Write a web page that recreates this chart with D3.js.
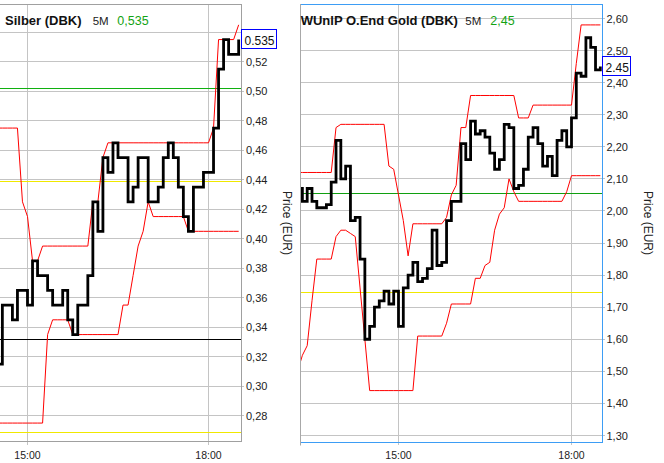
<!DOCTYPE html>
<html>
<head>
<meta charset="utf-8">
<script src="https://cdn.jsdelivr.net/npm/d3@7"></script>
<style>
  html, body { margin: 0; padding: 0; background: #fff; }
  svg { display: block; }
</style>
</head>
<body>
<svg id="chart" width="664" height="463"></svg>
<script>
// ---------------- DATA ----------------
const xTickLabels = ["15:00", "18:00"];

// Left panel: Silber (DBK), 5-minute bars starting 14:30
const silberTitle = "Silber (DBK)";
const silberPeriod = "5M";
const silberStart = "14:30";
const silberClose = [
  0.315, 0.355, 0.355, 0.345, 0.365, 0.365,
  0.355, 0.385, 0.375, 0.375, 0.365, 0.355, 0.355, 0.365, 0.345, 0.335, 0.355, 0.355,
  0.375, 0.425, 0.405, 0.455, 0.445, 0.465, 0.455, 0.455, 0.425, 0.435, 0.455, 0.455,
  0.425, 0.425, 0.435, 0.455, 0.465, 0.455, 0.435, 0.415, 0.405, 0.435, 0.435, 0.445,
  0.445, 0.475, 0.515, 0.535, 0.525, 0.525, 0.535
];
const silberUpper = [
  0.475, 0.475, 0.475, 0.475, 0.475, 0.425,
  0.415, 0.385, 0.385, 0.395, 0.395, 0.395, 0.395, 0.395, 0.395, 0.395, 0.395, 0.395,
  0.395, 0.425, 0.425, 0.455, 0.465, 0.465, 0.465, 0.465, 0.465, 0.465, 0.465, 0.465,
  0.465, 0.465, 0.465, 0.465, 0.465, 0.465, 0.465, 0.465, 0.465, 0.465, 0.465, 0.465,
  0.465, 0.475, 0.535, 0.535, 0.535, 0.535, 0.545
];
const silberLower = [
  0.275, 0.275, 0.275, 0.275, 0.275, 0.275,
  0.275, 0.275, 0.275, 0.275, 0.335, 0.345, 0.345, 0.345, 0.345, 0.335, 0.335, 0.335,
  0.335, 0.335, 0.335, 0.335, 0.335, 0.335, 0.335, 0.355, 0.355, 0.375, 0.395, 0.405,
  0.425, 0.415, 0.415, 0.415, 0.415, 0.415, 0.415, 0.415, 0.405, 0.405, 0.405, 0.405,
  0.405, 0.405, 0.405, 0.405, 0.405, 0.405, 0.405
];
const silberGrid = [0.28, 0.30, 0.32, 0.34, 0.36, 0.38, 0.40, 0.42, 0.44, 0.46, 0.48, 0.50, 0.52, 0.54];
const silberTickLabels = [0.28, 0.30, 0.32, 0.34, 0.36, 0.38, 0.40, 0.42, 0.44, 0.46, 0.48, 0.50, 0.52];
const silberLevels = [0.502, 0.439, 0.3318, 0.2687];
const silberLast = 0.535;

// Right panel: WUnlP O.End Gold (DBK), 5-minute bars starting 13:15
const goldTitle = "WUnlP O.End Gold (DBK)";
const goldPeriod = "5M";
const goldStart = "13:15";
const goldClose = [
  2.07, 2.03, 2.07, 2.03, 2.01, 2.01, 2.02, 2.09, 2.22, 2.10, 2.14, 1.97,
  1.98, 1.85, 1.60, 1.64, 1.70, 1.72, 1.75, 1.71, 1.75,
  1.64, 1.76, 1.80, 1.84, 1.78, 1.79, 1.82, 1.94, 1.83, 1.84, 1.97, 2.03,
  2.03, 2.21, 2.16, 2.28, 2.24, 2.25, 2.23, 2.18, 2.13, 2.16, 2.27, 2.26,
  2.07, 2.08, 2.13, 2.23, 2.26, 2.21, 2.14, 2.17, 2.11, 2.22, 2.25, 2.20,
  2.29, 2.43, 2.42, 2.54, 2.51, 2.44, 2.45
];
const goldUpper = [
  2.12, 2.12, 2.12, 2.12, 2.12, 2.12, 2.12, 2.12, 2.26, 2.27, 2.27, 2.27,
  2.27, 2.27, 2.27, 2.27, 2.27, 2.27, 2.27, 2.14, 2.13,
  2.05, 1.97, 1.86, 1.96, 1.96, 1.96, 1.96, 1.96, 1.96, 1.96, 1.98, 2.05,
  2.08, 2.26, 2.26, 2.36, 2.36, 2.36, 2.36, 2.36, 2.36, 2.36, 2.36, 2.36,
  2.36, 2.29, 2.29, 2.29, 2.33, 2.33, 2.33, 2.33, 2.33, 2.33, 2.33, 2.33,
  2.33, 2.46, 2.58, 2.58, 2.58, 2.58, 2.58
];
const goldLower = [
  1.50, 1.55, 1.58, 1.72, 1.85, 1.85, 1.85, 1.85, 1.92, 1.94, 1.94, 1.93,
  1.92, 1.76, 1.60, 1.44, 1.44, 1.44, 1.44, 1.44, 1.44,
  1.44, 1.44, 1.44, 1.44, 1.61, 1.61, 1.61, 1.61, 1.61, 1.61, 1.65, 1.71,
  1.71, 1.71, 1.71, 1.71, 1.79, 1.79, 1.83, 1.84, 1.94, 1.99, 2.01, 2.10,
  2.06, 2.03, 2.03, 2.03, 2.03, 2.03, 2.03, 2.03, 2.03, 2.03, 2.03, 2.06,
  2.11, 2.11, 2.11, 2.11, 2.11, 2.11, 2.11
];
const goldGrid = [1.30, 1.40, 1.50, 1.60, 1.70, 1.80, 1.90, 2.00, 2.10, 2.20, 2.30, 2.40, 2.50, 2.60];
const goldTickLabels = [1.30, 1.40, 1.50, 1.60, 1.70, 1.80, 1.90, 2.00, 2.10, 2.20, 2.30, 2.40, 2.50, 2.60];
const goldLevels = [2.054, 1.745];
const goldLast = 2.45;

const axisTitle = "Price (EUR)";

// ---------------- DRAWING ----------------
const parseT = d3.timeParse("%H:%M");
const comma = (fmt) => (v) => d3.format(fmt)(v).replace(".", ",");
const svg = d3.select("#chart");
svg.append("rect").attr("width", 664).attr("height", 463).attr("fill", "#fff");

const GRID = "#c4c4c4";
const FONT = "'Liberation Sans', Arial, sans-serif";

function series(start, values) {
  const t0 = parseT(start);
  return values.map((v, i) => ({ t: d3.timeMinute.offset(t0, 5 * i), v }));
}

function drawPanel(cfg) {
  const g = svg.append("g");
  const x = d3.scaleTime().domain([parseT("15:00"), parseT("18:00")]).range(cfg.xr);
  const y = d3.scaleLinear().domain(cfg.yd).range(cfg.yr);
  const clipId = "clip" + cfg.id;
  svg.append("clipPath").attr("id", clipId)
    .append("rect").attr("x", cfg.x0).attr("y", cfg.y0)
    .attr("width", cfg.x1 - cfg.x0).attr("height", cfg.y1 - cfg.y0);

  const crisp = (p) => Math.floor(p) + 0.5;

  // horizontal gridlines + ticks
  g.append("g").selectAll("line").data(cfg.grid).join("line")
    .attr("x1", cfg.x0).attr("x2", cfg.x1 + 3)
    .attr("y1", d => crisp(y(d))).attr("y2", d => crisp(y(d)))
    .attr("stroke", GRID).attr("stroke-width", 1);

  // vertical gridlines
  g.append("g").selectAll("line").data(xTickLabels).join("line")
    .attr("x1", d => crisp(x(parseT(d)))).attr("x2", d => crisp(x(parseT(d))))
    .attr("y1", cfg.y0).attr("y2", cfg.y1 + 3)
    .attr("stroke", GRID).attr("stroke-width", 1);

  const plot = g.append("g").attr("clip-path", `url(#${clipId})`);

  // reference levels
  plot.append("g").selectAll("line").data(cfg.levels).join("line")
    .attr("x1", cfg.x0).attr("x2", cfg.x1)
    .attr("y1", d => crisp(y(d))).attr("y2", d => crisp(y(d)))
    .attr("stroke", (d, i) => cfg.levelColors[i]).attr("stroke-width", 1);

  const lin = d3.line().x(d => x(d.t)).y(d => y(d.v));
  const step = d3.line().curve(d3.curveStepAfter).x(d => x(d.t)).y(d => y(d.v));

  plot.append("path").datum(series(cfg.start, cfg.upper)).attr("d", lin)
    .attr("fill", "none").attr("stroke", "#ff0000").attr("stroke-width", 1);
  plot.append("path").datum(series(cfg.start, cfg.lower)).attr("d", lin)
    .attr("fill", "none").attr("stroke", "#ff0000").attr("stroke-width", 1);
  plot.append("path").datum(series(cfg.start, cfg.close)).attr("d", step)
    .attr("fill", "none").attr("stroke", "#000").attr("stroke-width", 2.8)
    .attr("stroke-linejoin", "miter");

  // borders
  const b = cfg.border;
  g.append("line").attr("x1", cfg.x0).attr("x2", cfg.x1 + 0.5).attr("y1", b.top).attr("y2", b.top)
    .attr("stroke", cfg.frameColor);
  g.append("line").attr("x1", b.right).attr("x2", b.right).attr("y1", cfg.y0).attr("y2", b.bottom + 0.5)
    .attr("stroke", cfg.frameColor);
  g.append("line").attr("x1", cfg.x0).attr("x2", cfg.x1 + 0.5).attr("y1", b.bottom).attr("y2", b.bottom)
    .attr("stroke", cfg.frameColor);
  if (b.left != null) {
    g.append("line").attr("x1", b.left).attr("x2", b.left).attr("y1", cfg.y0).attr("y2", b.bottom + 3)
      .attr("stroke", "#a8a8a8");
  }

  // y tick labels
  g.append("g").selectAll("text").data(cfg.tickLabels).join("text")
    .attr("x", cfg.labelX).attr("y", d => y(d) + 4)
    .attr("font-family", FONT).attr("font-size", 11).attr("fill", "#222")
    .text(comma(".2f"));

  // x tick labels
  g.append("g").selectAll("text").data(xTickLabels).join("text")
    .attr("x", d => x(parseT(d))).attr("y", 459)
    .attr("text-anchor", "middle")
    .attr("font-family", FONT).attr("font-size", 10.5).attr("fill", "#222")
    .text(d => d);

  // axis title
  g.append("text")
    .attr("transform", `translate(${cfg.priceX},223) rotate(90)`)
    .attr("text-anchor", "middle")
    .attr("font-family", FONT).attr("font-size", 12).attr("fill", "#222")
    .text(axisTitle);

  // last value box
  const by = Math.round(y(cfg.last));
  g.append("rect").attr("x", cfg.boxX).attr("y", by - 10.5)
    .attr("width", cfg.boxW).attr("height", 19)
    .attr("fill", "#fff").attr("stroke", "#0000ff").attr("stroke-width", 1);
  g.append("text").attr("x", cfg.boxX + 3).attr("y", by + 4.5)
    .attr("font-family", FONT).attr("font-size", 12).attr("fill", "#111")
    .text(d3.format(cfg.lastFmt)(cfg.last));

  // title
  const t = g.append("text").attr("y", 25).attr("font-family", FONT);
  t.append("tspan").attr("x", cfg.titleX[0]).attr("font-weight", "bold").attr("font-size", 13)
    .attr("fill", "#111").text(cfg.title);
  t.append("tspan").attr("x", cfg.titleX[1]).attr("font-size", 11.5).attr("fill", "#222").text(cfg.period);
  t.append("tspan").attr("x", cfg.titleX[2]).attr("font-size", 12.5).attr("fill", "#13a313")
    .text(comma(cfg.lastFmt)(cfg.last));
}

drawPanel({
  id: "L", x0: -5, x1: 241, y0: 4, y1: 442,
  xr: [27.5, 208.5], yd: [0.28, 0.52], yr: [415.7, 61.7],
  grid: silberGrid, tickLabels: silberTickLabels, levels: silberLevels,
  levelColors: ["#10b010", "#f0e800", "#000000", "#f0e800"],
  start: silberStart, close: silberClose, upper: silberUpper, lower: silberLower,
  border: { top: 4.5, right: 241.5, bottom: 441.5, left: null },
  frameColor: "#a0a0a0",
  labelX: 246, priceX: 282.5,
  last: silberLast, lastFmt: ".3f", boxX: 241.5, boxW: 35,
  title: silberTitle, period: silberPeriod, titleX: [5, 92.7, 117.3]
});

drawPanel({
  id: "R", x0: 300.5, x1: 602, y0: 4, y1: 442,
  xr: [398.5, 571.5], yd: [1.3, 2.6], yr: [435.5, 18.5],
  grid: goldGrid, tickLabels: goldTickLabels, levels: goldLevels,
  levelColors: ["#10a010", "#f0e800"],
  start: goldStart, close: goldClose, upper: goldUpper, lower: goldLower,
  border: { top: 4.5, right: 602.5, bottom: 442.5, left: 300.5 },
  frameColor: "#3d9df5",
  labelX: 606.5, priceX: 643.5,
  last: goldLast, lastFmt: ".2f", boxX: 602.5, boxW: 28,
  title: goldTitle, period: goldPeriod, titleX: [300.7, 465.3, 490.3]
});
</script>
</body>
</html>
